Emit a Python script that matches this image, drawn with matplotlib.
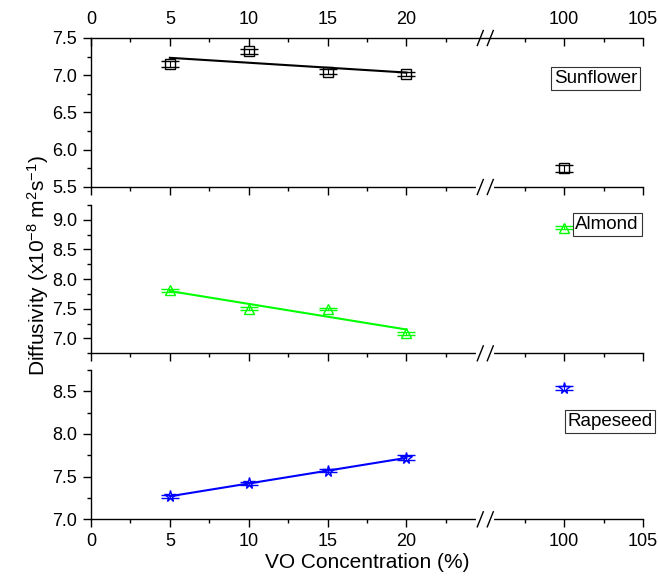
import numpy as np
import matplotlib
matplotlib.use('Agg')
import matplotlib.pyplot as plt

plt.rcParams['font.family'] = ['Liberation Sans', 'DejaVu Sans']
plt.rcParams['mathtext.fontset'] = 'custom'
plt.rcParams['mathtext.rm'] = 'Liberation Sans'
plt.rcParams['mathtext.it'] = 'Liberation Sans:italic'

# data
conc = [5, 10, 15, 20]
conc_pure = [100]

sun_d = [7.15, 7.32, 7.05, 7.02]
sun_err = [0.035, 0.03, 0.03, 0.03]
sun_pure = [5.75]
sun_pure_err = [0.05]

alm_d = [7.81, 7.50, 7.50, 7.09]
alm_err = [0.02, 0.025, 0.02, 0.025]
alm_pure = [8.87]
alm_pure_err = [0.02]

rap_d = [7.27, 7.42, 7.57, 7.72]
rap_err = [0.015, 0.02, 0.02, 0.03]
rap_pure = [8.54]
rap_pure_err = [0.02]

xticks = [0, 5, 10, 15, 20, 100, 105]
xminor = [2.5, 7.5, 12.5, 17.5, 22.5, 97.5, 102.5]


# broken x axis: 25..95 collapsed
def fwd(x):
    x = np.asarray(x, dtype=float)
    return np.where(x <= 25, x, np.where(x >= 95, x - 70, 25.0))


def inv(y):
    y = np.asarray(y, dtype=float)
    return np.where(y <= 25, y, y + 70)


fig = plt.figure(figsize=(6.58, 5.77), dpi=100)
L, W = 91 / 658, 552 / 658
ax1 = fig.add_axes([L, 1 - 187 / 577, W, 149 / 577])
ax2 = fig.add_axes([L, 1 - 353.3 / 577, W, 148.3 / 577])
ax3 = fig.add_axes([L, 1 - 519.3 / 577, W, 149.3 / 577])

panels = [
    (ax1, sun_d, sun_err, sun_pure, sun_pure_err, 'black', 's', 'Sunflower',
     (5.5, 7.5), np.arange(5.5, 7.51, 0.5), (0.914, 0.73)),
    (ax2, alm_d, alm_err, alm_pure, alm_pure_err, '#00ff00', '^', 'Almond',
     (6.75, 9.25), np.arange(7.0, 9.01, 0.5), (0.935, 0.868)),
    (ax3, rap_d, rap_err, rap_pure, rap_pure_err, '#0000ff', '*', 'Rapeseed',
     (7.0, 8.75), np.arange(7.0, 8.51, 0.5), (0.94, 0.655)),
]

for ax, d, e, dp, ep, col, mk, name, ylim, yt, pos in panels:
    ax.set_xscale('function', functions=(fwd, inv))
    ax.set_xlim(0, 105)
    ax.set_ylim(*ylim)
    ms = 8.5 if mk == '*' else 6.5
    ax.errorbar(conc, d, yerr=e, fmt=mk, mfc='none', mec=col, ms=ms, mew=1,
                ecolor=col, elinewidth=0.8, capsize=6.5, capthick=0.8)
    ax.errorbar(conc_pure, dp, yerr=ep, fmt=mk, mfc='none', mec=col, ms=ms, mew=1,
                ecolor=col, elinewidth=0.8, capsize=6.5, capthick=0.8)
    k, b = np.polyfit(conc, d, 1)
    xf = np.array([conc[0], conc[-1]])
    ax.plot(xf, k * xf + b, color=col, lw=1.5)
    ax.text(pos[0], pos[1], name, transform=ax.transAxes, ha='center', va='center',
            fontsize=13.5, clip_on=False,
            bbox=dict(boxstyle='square,pad=0.15', fc='white', ec='#333333', lw=0.8))

    ax.set_xticks(xticks)
    ax.set_xticks(xminor, minor=True)
    ax.set_yticks(yt)
    ax.set_yticks(np.arange(ylim[0], ylim[1] + 0.01, 0.25), minor=True)
    ax.set_yticklabels(['%.1f' % v for v in yt])
    ax.spines['right'].set_visible(False)
    ax.spines['top'].set_visible(False)
    for s in ['left', 'bottom']:
        ax.spines[s].set_linewidth(1.0)
    ax.tick_params(which='major', direction='out', length=6, width=1, labelsize=13, pad=4)
    ax.tick_params(which='minor', direction='out', length=3, width=1)
    if ax is not ax3:
        ax.tick_params(axis='x', labelbottom=False)

# top axis of the upper panel
axt = ax1.twiny()
axt.set_xscale('function', functions=(fwd, inv))
axt.set_xlim(0, 105)
axt.set_xticks(xticks)
axt.set_xticks(xminor, minor=True)
for s in ['left', 'right', 'bottom']:
    axt.spines[s].set_visible(False)
axt.spines['top'].set_linewidth(1.0)
axt.tick_params(which='major', direction='in', length=6, width=1, labelsize=13, pad=7)
axt.tick_params(which='minor', direction='in', length=3, width=1)

# break marks
bx = 25 / 35
px, py = 1 / 552, 1 / 149
for ax, yy in [(ax1, 1), (ax1, 0), (ax2, 0), (ax3, 0)]:
    ax.plot([bx - 7 * px, bx + 7 * px], [yy, yy], color='white', lw=3,
            transform=ax.transAxes, clip_on=False, zorder=5)
    for off in (-5, 5):
        ax.plot([bx + (off - 3) * px, bx + (off + 3) * px], [yy - 7.5 * py, yy + 7.5 * py],
                color='black', lw=1.0, transform=ax.transAxes, clip_on=False, zorder=6)

ax3.set_xlabel('VO Concentration (%)', fontsize=15, labelpad=2)
fig.text(0.058, 0.54, r'Diffusivity (x10$^{-8}$ m$^{2}$s$^{-1}$)', rotation=90,
         ha='center', va='center', fontsize=15)

fig.savefig('out.png', dpi=100)
